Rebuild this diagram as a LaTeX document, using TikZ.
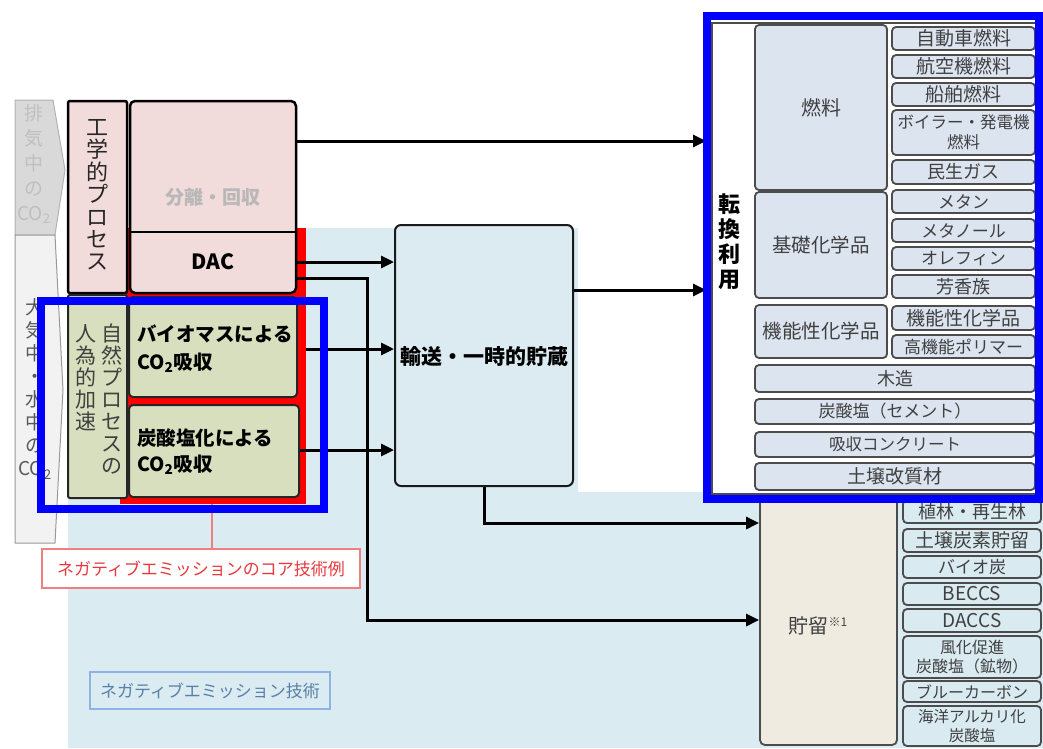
\documentclass[tikz,border=0pt]{standalone}
\usepackage{fontspec}
\setmainfont{Noto Sans CJK JP}
\usetikzlibrary{arrows.meta}
\definecolor{pinkf}{HTML}{F2DCDB}
\definecolor{greenf}{HTML}{D7DFBE}
\definecolor{bgblue}{HTML}{DAEBF1}
\definecolor{trf}{HTML}{DBEBF1}
\definecolor{panelf}{HTML}{DCE4F0}
\definecolor{storef}{HTML}{EFEBE1}
\definecolor{colf}{HTML}{D9EAF1}
\definecolor{txtgray}{HTML}{404040}
\definecolor{coretxt}{HTML}{E8383D}
\definecolor{coreline}{HTML}{F08080}
\definecolor{negtxt}{HTML}{5A7FA8}
\definecolor{negline}{HTML}{8DB3E2}
\newcommand{\fs}[2]{\fontsize{#1}{#2}\selectfont}
\newcommand{\bx}[7]{%
  \node[#6, minimum width={#4-#2}, minimum height={#5-#3}] (#1) at ({(#2+#4)/2},{(#3+#5)/2}) {#7};}
\begin{document}
\begin{tikzpicture}[x=1pt,y=-1pt,
  pinkbox/.style={draw=black, line width=2.5pt, fill=pinkf, rounded corners=5pt, inner sep=0pt},
  greenbox/.style={draw=black!85, line width=2pt, fill=greenf, rounded corners=4pt, inner sep=0pt},
  trbox/.style={draw=black!90, line width=2pt, fill=trf, rounded corners=6pt, inner sep=0pt},
  catbox/.style={draw=black!70, line width=1.8pt, fill=panelf, rounded corners=4pt, text=txtgray, inner sep=0pt, align=center},
  stbox/.style={draw=black!70, line width=1.8pt, fill=storef, rounded corners=5pt, text=txtgray, inner sep=0pt},
  colbox/.style={draw=black!70, line width=1.8pt, fill=colf, rounded corners=4pt, text=txtgray, inner sep=0pt, align=center},
  hilite/.style={draw=blue, line width=8pt, inner sep=0pt},
  conn/.style={draw=black, line width=3pt, -{Triangle[length=13pt,width=12pt]}},
  plain/.style={inner sep=0pt, align=center}
]
\useasboundingbox (0,0) rectangle (1043,748);

% background
\fill[bgblue] (68,228) -- (578,228) -- (578,492) -- (1043,492) -- (1043,748) -- (68,748) -- cycle;

% left grey arrows
\draw[fill=black!15, draw=black!30, line width=1pt] (15,100) -- (53,100) -- (65,170) -- (55,235) -- (15,235) -- cycle;
\draw[fill=black!5, draw=black!40, line width=1pt] (15,235) -- (55,235) -- (63,390) -- (55,543) -- (15,543) -- cycle;
\node[plain, text=black!25, font=\fs{19}{25}] (exh) at (34,164) {排\\気\\中\\の\\CO\textsubscript{2}};
\node[plain, text=black!65, font=\fs{19}{23}] (air) at (35,389) {大\\気\\中\\・\\水\\中\\の\\CO\textsubscript{2}};

% red core area
\bx{redr}{120}{228}{306}{504}{fill=red, inner sep=0pt}{}

% engineering process
\bx{eng}{68}{101}{127}{293}{pinkbox, rounded corners=2pt}{}
\node[plain, text=black!85, font=\fs{22}{22.4}] (engt) at (97,195) {工\\学\\的\\プ\\ロ\\セ\\ス};
\bx{pk}{130}{101}{296}{293}{pinkbox}{}
\draw[black, line width=1.5pt] (pk.west |- 0,232) -- (pk.east |- 0,232);
\node[plain, text=black!28, font=\bfseries\fs{19}{22}] (sep) at (213,197) {分離・回収};
\node[plain, text=black, font=\bfseries\fs{21}{24}] (dac) at (213,262) {DAC};

% natural process
\bx{nat}{68}{295}{127}{498}{greenbox, rounded corners=2pt}{}
\node[plain, anchor=north, text=txtgray, font=\fs{21}{22}] (natr) at (112,324) {自\\然\\プ\\ロ\\セ\\ス\\の};
\node[plain, anchor=north, text=txtgray, font=\fs{21}{22}] (natl) at (86,324) {人\\為\\的\\加\\速};
\bx{g1}{129}{297}{297}{397}{greenbox}{}
\bx{g2}{129}{405}{299}{497}{greenbox}{}
\node[plain, anchor=west, align=left, font=\bfseries\fs{19.5}{28}] (g1t) at (137,349) {バイオマスによる\\CO\textsubscript{2}吸収};
\node[plain, anchor=west, align=left, font=\bfseries\fs{19.5}{26}] (g2t) at (137,452) {炭酸塩化による\\CO\textsubscript{2}吸収};

% transport
\bx{tr}{395}{225}{573}{486}{trbox}{}
\node[plain, font=\bfseries\fs{21}{24}] (trt) at (484,357) {輸送・一時的貯蔵};

% right conversion panel
\bx{panel}{712}{23}{1036}{494}{fill=white, draw=black!70, line width=1.2pt}{}
\node[plain, font=\bfseries\fs{22}{25}] (conv) at (729,242) {転\\換\\利\\用};
\bx{fuel}{755}{25}{887}{190}{catbox, font=\fs{20}{24}}{燃料}
\bx{basic}{755}{192}{887}{298}{catbox, font=\fs{19.5}{24}}{基礎化学品}
\bx{func}{755}{305}{887}{358}{catbox, font=\fs{19.5}{24}}{機能性化学品}
\bx{f1}{892}{27}{1035}{50}{catbox, font=\fs{19}{22}}{自動車燃料}
\bx{f2}{892}{55}{1035}{78}{catbox, font=\fs{19}{22}}{航空機燃料}
\bx{f3}{892}{83}{1035}{106}{catbox, font=\fs{19}{22}}{船舶燃料}
\bx{f4}{892}{110}{1035}{155}{catbox, font=\fs{16.5}{20}}{ボイラー・発電機\\燃料}
\bx{f5}{892}{160}{1035}{184}{catbox, font=\fs{18}{22}}{民生ガス}
\bx{c1}{892}{190}{1035}{213}{catbox, font=\fs{17}{22}}{メタン}
\bx{c2}{892}{219}{1035}{242}{catbox, font=\fs{17}{22}}{メタノール}
\bx{c3}{892}{247}{1035}{270}{catbox, font=\fs{17}{22}}{オレフィン}
\bx{c4}{892}{275}{1035}{298}{catbox, font=\fs{18}{22}}{芳香族}
\bx{p1}{892}{306}{1035}{330}{catbox, font=\fs{19}{22}}{機能性化学品}
\bx{p2}{892}{335}{1035}{358}{catbox, font=\fs{17}{22}}{高機能ポリマー}
\bx{w1}{755}{365}{1035}{392}{catbox, font=\fs{18}{22}}{木造}
\bx{w2}{755}{399}{1035}{424}{catbox, font=\fs{17}{22}}{炭酸塩（セメント）}
\bx{w3}{755}{432}{1035}{457}{catbox, font=\fs{16.5}{22}}{吸収コンクリート}
\bx{w4}{755}{463}{1035}{490}{catbox, font=\fs{19}{22}}{土壌改質材}

% storage
\bx{store}{760}{497}{897}{745}{stbox}{}
\node[plain, text=txtgray, font=\fs{20}{24}] (storet) at (818,626) {貯留\raisebox{7pt}{\fs{12}{14}※1}};
\bx{s1}{903}{500}{1041}{523}{colbox, font=\fs{18}{22}}{植林・再生林}
\bx{s2}{903}{529}{1041}{552}{colbox, font=\fs{19}{22}}{土壌炭素貯留}
\bx{s3}{903}{556}{1041}{578}{colbox, font=\fs{17}{22}}{バイオ炭}
\bx{s4}{903}{583}{1041}{605}{colbox, font=\fs{19}{22}}{BECCS}
\bx{s5}{903}{609}{1041}{632}{colbox, font=\fs{19}{22}}{DACCS}
\bx{s6}{903}{636}{1041}{678}{colbox, font=\fs{16}{19}}{風化促進\\炭酸塩（鉱物）}
\bx{s7}{903}{681}{1041}{702}{colbox, font=\fs{16}{20}}{ブルーカーボン}
\bx{s8}{903}{706}{1041}{746}{colbox, font=\fs{15.5}{19}}{海洋アルカリ化\\炭酸塩}

% connectors
\coordinate (pin) at (706,0);
\draw[conn] (pk.east |- 0,141) -- (pin |- 0,141);
\draw[conn] (pk.east |- dac.center) -- (tr.west |- dac.center);
\draw[conn] (pk.east |- 0,278) -- (367,278) -- (367,620) -- (store.west |- 0,620);
\draw[conn] ([xshift=8pt]g1.east |- g1t.center) -- (tr.west |- g1t.center);
\draw[conn] (g2.east |- 0,450) -- (tr.west |- 0,450);
\draw[conn] (tr.east |- 0,290) -- (pin |- 0,290);
\draw[conn] (tr.south) |- (store.west |- 0,523);

% callout
\bx{core}{42}{549}{360}{588}{draw=coreline, line width=1.3pt, fill=white, text=coretxt, font=\fs{17}{20}}{ネガティブエミッションのコア技術例}
\draw[coreline, line width=1.2pt] (redr.south -| 212,0) -- (core.north -| 212,0);
\bx{neg}{90}{672}{330}{709}{draw=negline, line width=1.5pt, text=negtxt, font=\fs{17}{20}}{ネガティブエミッション技術}

% blue highlight frames
\bx{hl1}{41}{301}{324}{509}{hilite}{}
\bx{hl2}{707}{16}{1039}{499}{hilite}{}
\end{tikzpicture}
\end{document}
